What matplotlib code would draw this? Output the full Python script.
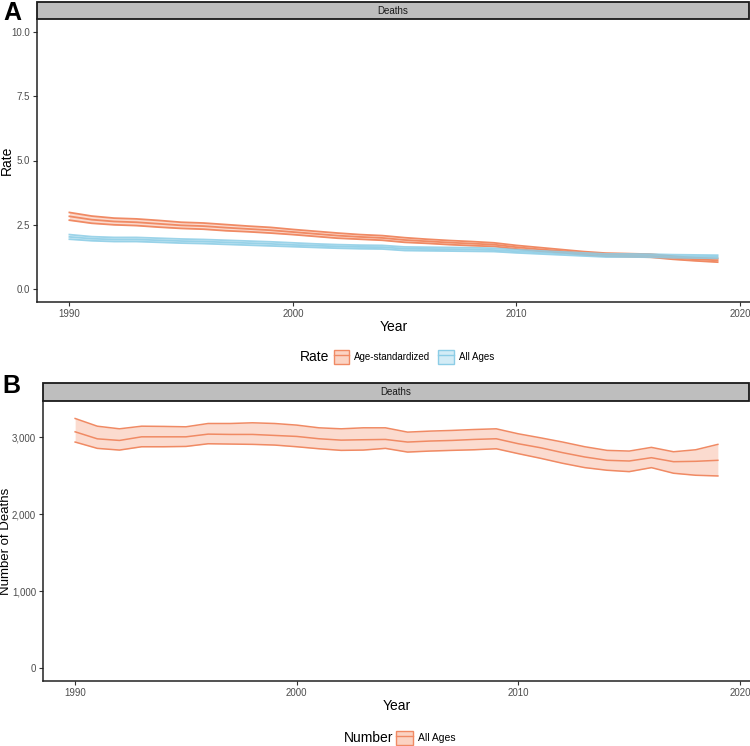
import numpy as np
import matplotlib
matplotlib.use("Agg")
import matplotlib.pyplot as plt
from matplotlib.patches import Patch, Rectangle
from matplotlib.lines import Line2D
from matplotlib.ticker import FuncFormatter, FormatStrFormatter

plt.rcParams['font.family'] = ['Liberation Sans Narrow', 'Liberation Sans', 'DejaVu Sans']

years = list(range(1990, 2020))

# panel A - rates (per 100,000)
asr_val = [2.83, 2.70, 2.63, 2.60, 2.54, 2.48, 2.45, 2.39, 2.34, 2.29,
           2.22, 2.15, 2.08, 2.03, 1.99, 1.91, 1.86, 1.81, 1.77, 1.73,
           1.63, 1.55, 1.48, 1.40, 1.34, 1.32, 1.30, 1.22, 1.16, 1.12]
asr_low = [2.68, 2.56, 2.50, 2.47, 2.41, 2.36, 2.33, 2.27, 2.23, 2.18,
           2.12, 2.05, 1.98, 1.94, 1.90, 1.82, 1.78, 1.73, 1.69, 1.66,
           1.56, 1.48, 1.42, 1.34, 1.28, 1.26, 1.24, 1.16, 1.10, 1.05]
asr_up = [2.98, 2.84, 2.76, 2.73, 2.67, 2.60, 2.57, 2.51, 2.45, 2.40,
          2.32, 2.25, 2.18, 2.12, 2.08, 2.00, 1.94, 1.89, 1.85, 1.80,
          1.70, 1.62, 1.54, 1.46, 1.40, 1.38, 1.36, 1.28, 1.22, 1.19]

all_val = [2.03, 1.96, 1.93, 1.93, 1.90, 1.87, 1.85, 1.82, 1.79, 1.76,
           1.72, 1.69, 1.66, 1.64, 1.63, 1.57, 1.56, 1.55, 1.54, 1.52,
           1.47, 1.43, 1.39, 1.35, 1.31, 1.31, 1.30, 1.28, 1.27, 1.26]
all_low = [1.94, 1.88, 1.85, 1.85, 1.82, 1.79, 1.77, 1.74, 1.71, 1.68,
           1.65, 1.62, 1.59, 1.57, 1.56, 1.50, 1.49, 1.48, 1.47, 1.46,
           1.41, 1.37, 1.33, 1.29, 1.25, 1.25, 1.24, 1.22, 1.21, 1.20]
all_up = [2.12, 2.04, 2.01, 2.01, 1.98, 1.95, 1.93, 1.90, 1.87, 1.84,
          1.80, 1.76, 1.73, 1.71, 1.70, 1.64, 1.63, 1.62, 1.61, 1.59,
          1.53, 1.49, 1.45, 1.41, 1.37, 1.37, 1.36, 1.34, 1.33, 1.32]

# panel B - number of deaths
num_val = [3070, 2979, 2958, 3005, 3005, 3005, 3040, 3036, 3036, 3023,
           3010, 2980, 2962, 2967, 2971, 2937, 2950, 2958, 2971, 2980,
           2915, 2863, 2799, 2743, 2700, 2691, 2734, 2682, 2687, 2700]
num_low = [2937, 2855, 2833, 2876, 2876, 2880, 2915, 2911, 2907, 2898,
           2876, 2850, 2829, 2833, 2855, 2807, 2820, 2829, 2837, 2850,
           2786, 2726, 2661, 2605, 2571, 2553, 2605, 2532, 2506, 2497]
num_up = [3243, 3143, 3109, 3143, 3140, 3135, 3178, 3178, 3187, 3178,
          3157, 3122, 3109, 3122, 3122, 3066, 3079, 3088, 3100, 3109,
          3044, 2992, 2937, 2876, 2829, 2820, 2868, 2811, 2837, 2907]

orange = "#F08A64"
orange_fill = "#FBD3C3"
blue = "#8CCDE6"
blue_fill = "#D3ECF6"

W, H = 750, 746
fig = plt.figure(figsize=(7.5, 7.46), dpi=100)


def add_strip(x0, y0, x1, y1):
    sax = fig.add_axes([x0 / W, 1 - y1 / H, (x1 - x0) / W, (y1 - y0) / H])
    sax.set_xlim(0, 1)
    sax.set_ylim(0, 1)
    sax.axis("off")
    sax.add_patch(Rectangle((0, 0), 1, 1, facecolor="#BEBEBE", edgecolor="#1a1a1a",
                            linewidth=1.3, transform=sax.transAxes, clip_on=False))
    sax.text(0.5, 0.5, "Deaths", ha="center", va="center", fontsize=7, color="#1a1a1a")


def style_axes(ax, left_px, label_x):
    for s in ["top", "right"]:
        ax.spines[s].set_visible(False)
    for s in ["left", "bottom"]:
        ax.spines[s].set_linewidth(1.1)
        ax.spines[s].set_color("#222222")
    ax.tick_params(length=3, width=0.8, color="#333333", labelsize=7, labelcolor="#4d4d4d", pad=2)
    ax.set_xlim(1988.55, 2020.45)
    ax.set_xticks([1990, 2000, 2010, 2020])
    ax.set_xlabel("Year", fontsize=10, labelpad=1, family=["Liberation Sans", "DejaVu Sans"])
    w = ax.get_position().width * W
    ax.yaxis.set_label_coords((label_x - left_px) / w, 0.5)


# ---- panel A
axA = fig.add_axes([37 / W, 1 - 302 / H, 713 / W, 283 / H])
axA.fill_between(years, asr_low, asr_up, color=orange_fill, alpha=0.8, linewidth=0)
axA.fill_between(years, all_low, all_up, color=blue_fill, alpha=0.8, linewidth=0)
for arr in (asr_low, asr_val, asr_up):
    axA.plot(years, arr, color=orange, linewidth=1.3)
for arr in (all_low, all_val, all_up):
    axA.plot(years, arr, color=blue, linewidth=1.3, alpha=0.85)
axA.set_ylim(-0.5, 10.5)
axA.set_yticks([0, 2.5, 5.0, 7.5, 10.0])
axA.yaxis.set_major_formatter(FormatStrFormatter('%.1f'))
axA.set_ylabel("Rate", fontsize=10, family=["Liberation Sans", "DejaVu Sans"])
style_axes(axA, 37, 14)
add_strip(37, 2, 749, 19)

# ---- panel B
axB = fig.add_axes([43 / W, 1 - 681 / H, 707 / W, 280 / H])
axB.fill_between(years, num_low, num_up, color=orange_fill, alpha=0.8, linewidth=0)
for arr in (num_low, num_val, num_up):
    axB.plot(years, arr, color=orange, linewidth=1.1)
axB.set_ylim(-165, 3470)
axB.set_yticks([0, 1000, 2000, 3000])
axB.yaxis.set_major_formatter(FuncFormatter(lambda v, p: f"{int(v):,}"))
axB.set_ylabel("Number of Deaths", fontsize=9.5, family=["Liberation Sans", "DejaVu Sans"])
style_axes(axB, 43, 12)
add_strip(43, 383, 749, 401)


# ---- legends
def key(col, fill):
    return (Patch(facecolor=fill, edgecolor=col, linewidth=1.0),
            Line2D([0], [0], color=col, linewidth=1.0))


legA = fig.legend([key(orange, orange_fill), key(blue, blue_fill)],
                  ["Age-standardized", "All Ages"], ncol=2, frameon=False,
                  loc="center left", bbox_to_anchor=(329 / W, 1 - 357 / H),
                  handlelength=1.6, handleheight=1.7, columnspacing=0.8,
                  handletextpad=0.5, borderpad=0,
                  prop={"family": ["Liberation Sans", "DejaVu Sans"], "size": 7})
fig.text(300 / W, 1 - 357 / H, "Rate", ha="left", va="center", fontsize=10,
         family=["Liberation Sans", "DejaVu Sans"])

legB = fig.legend([key(orange, orange_fill)], ["All Ages"], frameon=False,
                  loc="center left", bbox_to_anchor=(391 / W, 1 - 738 / H),
                  handlelength=1.6, handleheight=1.7, handletextpad=0.5, borderpad=0,
                  prop={"size": 7.5})
fig.text(344 / W, 1 - 738 / H, "Number", ha="left", va="center", fontsize=10)

# panel letters
fig.text(3 / W, 1 - 13 / H, "A", fontsize=18, fontweight="bold", va="center", ha="left",
         family=["Liberation Sans Narrow", "Liberation Sans", "DejaVu Sans"])
fig.text(2 / W, 1 - 386 / H, "B", fontsize=18, fontweight="bold", va="center", ha="left",
         family=["Liberation Sans Narrow", "Liberation Sans", "DejaVu Sans"])

fig.savefig("out.png", dpi=100)
